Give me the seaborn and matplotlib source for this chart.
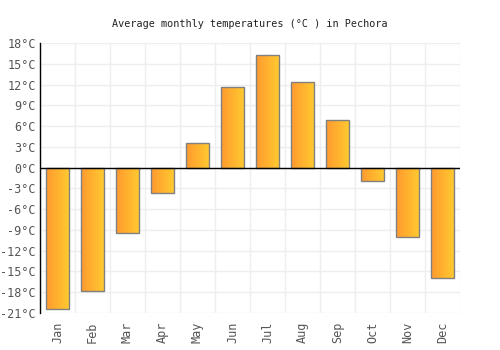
import numpy as np
import pandas as pd
import matplotlib
matplotlib.use("Agg")
import matplotlib.pyplot as plt
from matplotlib.colors import LinearSegmentedColormap
import seaborn as sns

months = ['Jan', 'Feb', 'Mar', 'Apr', 'May', 'Jun', 'Jul', 'Aug', 'Sep', 'Oct', 'Nov', 'Dec']
temps = [-20.4, -17.8, -9.4, -3.6, 3.6, 11.7, 16.3, 12.4, 6.9, -1.9, -10.0, -15.9]
yticks = list(range(-21, 19, 3))

df = pd.DataFrame({'month': months, 'temp': temps})

sns.set_theme(style="white")
plt.rcParams['font.family'] = ['DejaVu Sans Mono', 'DejaVu Sans']

fig = plt.figure(figsize=(5, 3.5), dpi=100)
ax = fig.add_axes([0.08, 0.106, 0.84, 0.771])

sns.barplot(data=df, x='month', y='temp', ax=ax, width=0.66,
            color='#ffb030', edgecolor='#808080', linewidth=1, zorder=3)

# gradient fill, orange on the left to yellow on the right
cmap = LinearSegmentedColormap.from_list('grad', ['#ff9a2e', '#ffcb30'])
grad = np.linspace(0, 1, 64).reshape(1, -1)
for p in ax.patches:
    x0, y0 = p.get_x(), p.get_y()
    w, h = p.get_width(), p.get_height()
    im = ax.imshow(grad, cmap=cmap, aspect='auto', zorder=3.5,
                   extent=[x0, x0 + w, min(y0, y0 + h), max(y0, y0 + h)])
    im.set_clip_path(p)
    p.set_facecolor('none')
    p.set_zorder(4)

ax.set_xlim(-0.5, 11.5)
ax.set_ylim(-21, 18)
ax.set_yticks(yticks)
ax.set_yticklabels([f'{t}°C' for t in yticks])
ax.set_xticks(np.arange(-0.5, 12, 1), minor=True)
ax.grid(False)
ax.grid(True, which='minor', axis='x', color='#eeeeee', linewidth=1, zorder=0)
ax.grid(True, which='major', axis='y', color='#eeeeee', linewidth=1, zorder=0)
ax.axhline(0, color='black', linewidth=1, zorder=5)

ax.tick_params(axis='x', which='both', length=0, labelrotation=90, labelsize=8.5,
               labelcolor='#555555', pad=6)
ax.tick_params(axis='y', length=0, labelsize=8.5, labelcolor='#555555', pad=3)
ax.set_xlabel('')
ax.set_ylabel('')

for s in ['top', 'right', 'bottom']:
    ax.spines[s].set_visible(False)
ax.spines['left'].set_color('black')
ax.spines['left'].set_linewidth(1)

fig.suptitle('Average monthly temperatures (°C ) in Pechora', y=0.945,
             fontsize=7.3, color='#222222')

fig.savefig('out.png', dpi=100)
